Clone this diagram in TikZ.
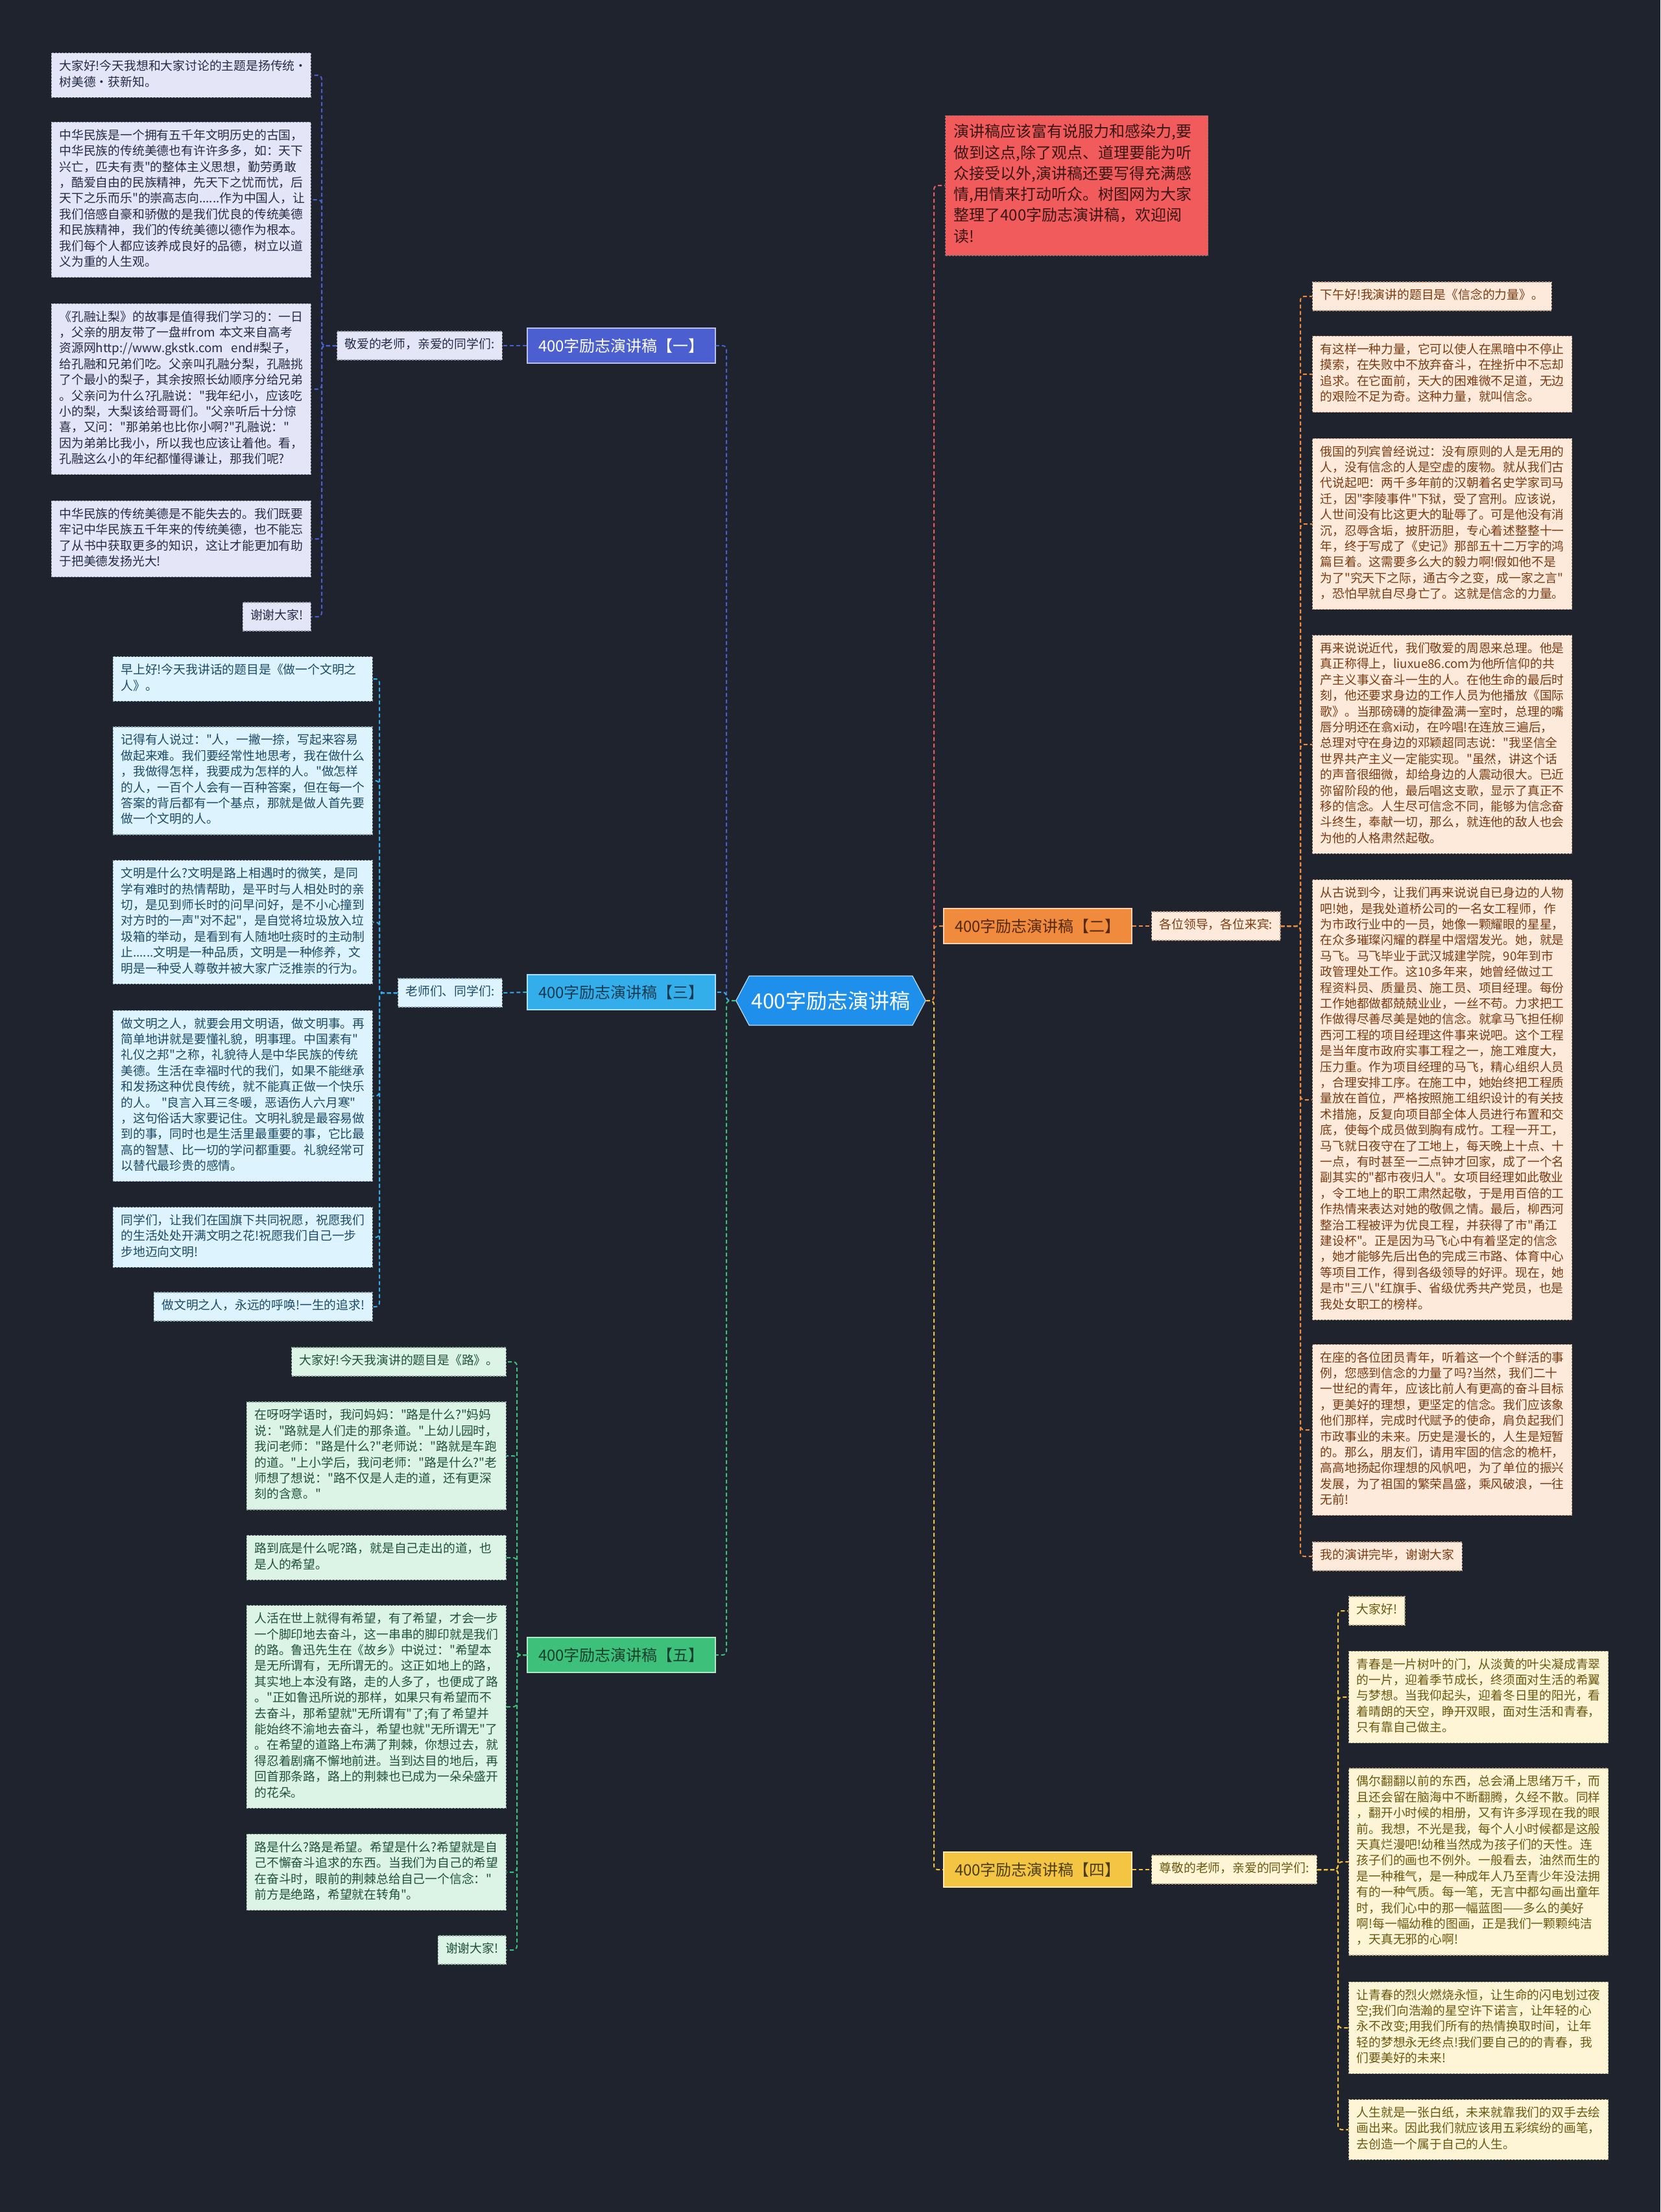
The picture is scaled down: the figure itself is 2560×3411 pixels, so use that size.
\documentclass[tikz,border=0pt]{standalone}
\usepackage{fontspec}
\setmainfont{Noto Sans CJK SC}
\newfontfamily\zh{Noto Sans CJK SC}
\usetikzlibrary{shapes.symbols}
\definecolor{bg}{HTML}{1F232E}
\definecolor{cen}{HTML}{1E8FEA}
\definecolor{redbox}{HTML}{F25B5B}
\definecolor{redtxt}{HTML}{3A1616}
\definecolor{bA}{HTML}{4B5FD1}
\definecolor{bC}{HTML}{33AEEA}
\definecolor{bE}{HTML}{3CC07A}
\definecolor{bB}{HTML}{F08A3C}
\definecolor{bD}{HTML}{F4C542}
\definecolor{fA}{HTML}{E4E6F7}\definecolor{tA}{HTML}{262B45}
\definecolor{fC}{HTML}{DDF3FD}\definecolor{tC}{HTML}{1C4A66}
\definecolor{fE}{HTML}{DCF4E6}\definecolor{tE}{HTML}{21513A}
\definecolor{fB}{HTML}{FDEADB}\definecolor{tB}{HTML}{7A3B12}
\definecolor{fD}{HTML}{FDF5D6}\definecolor{tD}{HTML}{6B5810}
\newcommand\leaffont{\zh\fontsize{18.8}{24.4}\selectfont}
\newcommand\redfont{\zh\fontsize{24}{32.3}\selectfont}
\newcommand\brfont{\zh\fontsize{24}{30}\selectfont}
\newcommand\cenfont{\zh\fontsize{32}{38}\selectfont}
\tikzset{
  leaf/.style={rectangle, dashed, dash pattern=on 3pt off 2pt, line width=1.2pt,
    inner xsep=12pt, inner ysep=9.8pt, font=\leaffont, align=left,
    execute at begin node=\strut, execute at end node=\strut},
  wide/.style={text width=376pt},
  lA/.style={leaf, fill=fA, draw=tA!50, text=tA},
  lC/.style={leaf, fill=fC, draw=tC!50, text=tC},
  lE/.style={leaf, fill=fE, draw=tE!50, text=tE},
  lB/.style={leaf, fill=fB, draw=tB!50, text=tB},
  lD/.style={leaf, fill=fD, draw=tD!50, text=tD},
  branch/.style={rectangle, minimum width=290pt, minimum height=54pt, font=\brfont,
    inner sep=0pt, draw=white!60!#1, line width=1.2pt, fill=#1},
  conn/.style={dashed, dash pattern=on 6pt off 4pt, line width=2pt, rounded corners=6pt},
}
\begin{document}
\begin{tikzpicture}[x=1pt,y=-1pt]
\useasboundingbox (0,0) rectangle (2560,3411);
\fill[bg] (0,0) rectangle (2560,3411);

% trunk coordinates
\coordinate (TL) at (1120,0);
\coordinate (TR) at (1440,0);
\coordinate (T1) at (496,0);
\coordinate (T3) at (585,0);
\coordinate (T5) at (797,0);
\coordinate (T2) at (2005,0);
\coordinate (T4) at (2063,0);

% center
\node[signal, signal to=west and east, signal pointer angle=124, fill=cen, draw=white!70!cen,
  line width=1.2pt, text=white, font=\cenfont, minimum width=288pt, minimum height=76pt]
  (C) at (1281,1543) {400字励志演讲稿};

% red intro box
\node[rectangle, fill=redbox, draw=redtxt!60, dashed, dash pattern=on 3pt off 2pt, line width=1.2pt,
  text=redtxt, font=\redfont, text width=379pt, inner xsep=13pt, inner ysep=11pt, align=left,
  execute at begin node=\strut, execute at end node=\strut, anchor=west] (R) at (1457,286)
{演讲稿应该富有说服力和感染力,要\\做到这点,除了观点、道理要能为听\\众接受以外,演讲稿还要写得充满感\\情,用情来打动听众。树图网为大家\\整理了400字励志演讲稿，欢迎阅\\读!};

% branches
\node[branch=bA, text=white] (B1) at (958,533) {400字励志演讲稿【一】};
\node[branch=bC, text=tC!80!black] (B3) at (958,1530) {400字励志演讲稿【三】};
\node[branch=bE, text=tE!80!black] (B5) at (958,2552) {400字励志演讲稿【五】};
\node[branch=bB, text=tB!70!black] (B2) at (1600,1428) {400字励志演讲稿【二】};
\node[branch=bD, text=tD!70!black] (B4) at (1600,2883) {400字励志演讲稿【四】};

% labels
\node[lA, anchor=east] (LA) at (775,533) {敬爱的老师，亲爱的同学们:};
\node[lC, anchor=east] (LC) at (775,1531) {老师们、同学们:};
\node[lB, anchor=west] (LB) at (1775,1428) {各位领导，各位来宾:};
\node[lD, anchor=west] (LD) at (1775,2883) {尊敬的老师，亲爱的同学们:};

% branch 1 leaves
\node[lA, wide, anchor=east] (a1) at (480,116) {大家好!今天我想和大家讨论的主题是扬传统·\\树美德·获新知。};
\node[lA, wide, anchor=east] (a2) at (480,308) {中华民族是一个拥有五千年文明历史的古国，\\中华民族的传统美德也有许许多多，如：天下\\兴亡，匹夫有责"的整体主义思想，勤劳勇敢\\，酷爱自由的民族精神，先天下之忧而忧，后\\天下之乐而乐"的崇高志向......作为中国人，让\\我们倍感自豪和骄傲的是我们优良的传统美德\\和民族精神，我们的传统美德以德作为根本。\\我们每个人都应该养成良好的品德，树立以道\\义为重的人生观。};
\node[lA, wide, anchor=east] (a3) at (480,600) {《孔融让梨》的故事是值得我们学习的：一日\\，父亲的朋友带了一盘\#from~本文来自高考\\资源网http://www.gkstk.com~~end\#梨子，\\给孔融和兄弟们吃。父亲叫孔融分梨，孔融挑\\了个最小的梨子，其余按照长幼顺序分给兄弟\\。父亲问为什么?孔融说："我年纪小，应该吃\\小的梨，大梨该给哥哥们。"父亲听后十分惊\\喜，又问："那弟弟也比你小啊?"孔融说："\\因为弟弟比我小，所以我也应该让着他。看，\\孔融这么小的年纪都懂得谦让，那我们呢?};
\node[lA, wide, anchor=east] (a4) at (480,831) {中华民族的传统美德是不能失去的。我们既要\\牢记中华民族五千年来的传统美德，也不能忘\\了从书中获取更多的知识，这让才能更加有助\\于把美德发扬光大!};
\node[lA, anchor=east] (a5) at (480,951) {谢谢大家!};

% branch 3 leaves
\node[lC, wide, anchor=east] (c1) at (575,1047) {早上好!今天我讲话的题目是《做一个文明之\\人》。};
\node[lC, wide, anchor=east] (c2) at (575,1204) {记得有人说过："人，一撇一捺，写起来容易\\做起来难。我们要经常性地思考，我在做什么\\，我做得怎样，我要成为怎样的人。"做怎样\\的人，一百个人会有一百种答案，但在每一个\\答案的背后都有一个基点，那就是做人首先要\\做一个文明的人。};
\node[lC, wide, anchor=east] (c3) at (575,1422) {文明是什么?文明是路上相遇时的微笑，是同\\学有难时的热情帮助，是平时与人相处时的亲\\切，是见到师长时的问早问好，是不小心撞到\\对方时的一声"对不起"，是自觉将垃圾放入垃\\圾箱的举动，是看到有人随地吐痰时的主动制\\止......文明是一种品质，文明是一种修养，文\\明是一种受人尊敬并被大家广泛推崇的行为。};
\node[lC, wide, anchor=east] (c4) at (575,1690) {做文明之人，就要会用文明语，做文明事。再\\简单地讲就是要懂礼貌，明事理。中国素有"\\礼仪之邦"之称，礼貌待人是中华民族的传统\\美德。生活在幸福时代的我们，如果不能继承\\和发扬这种优良传统，就不能真正做一个快乐\\的人。~"良言入耳三冬暖，恶语伤人六月寒"\\，这句俗话大家要记住。文明礼貌是最容易做\\到的事，同时也是生活里最重要的事，它比最\\高的智慧、比一切的学问都重要。礼貌经常可\\以替代最珍贵的感情。};
\node[lC, wide, anchor=east] (c5) at (575,1908) {同学们，让我们在国旗下共同祝愿，祝愿我们\\的生活处处开满文明之花!祝愿我们自己一步\\步地迈向文明!};
\node[lC, anchor=east] (c6) at (575,2015) {做文明之人，永远的呼唤!一生的追求!};

% branch 5 leaves
\node[lE, anchor=east] (e1) at (781,2100) {大家好!今天我演讲的题目是《路》。};
\node[lE, wide, anchor=east] (e2) at (781,2245) {在呀呀学语时，我问妈妈："路是什么?"妈妈\\说："路就是人们走的那条道。"上幼儿园时，\\我问老师："路是什么?"老师说："路就是车跑\\的道。"上小学后，我问老师："路是什么?"老\\师想了想说："路不仅是人走的道，还有更深\\刻的含意。"};
\node[lE, wide, anchor=east] (e3) at (781,2402) {路到底是什么呢?路，就是自己走出的道，也\\是人的希望。};
\node[lE, wide, anchor=east] (e4) at (781,2632) {人活在世上就得有希望，有了希望，才会一步\\一个脚印地去奋斗，这一串串的脚印就是我们\\的路。鲁迅先生在《故乡》中说过："希望本\\是无所谓有，无所谓无的。这正如地上的路，\\其实地上本没有路，走的人多了，也便成了路\\。"正如鲁迅所说的那样，如果只有希望而不\\去奋斗，那希望就"无所谓有"了;有了希望并\\能始终不渝地去奋斗，希望也就"无所谓无"了\\。在希望的道路上布满了荆棘，你想过去，就\\得忍着剧痛不懈地前进。当到达目的地后，再\\回首那条路，路上的荆棘也已成为一朵朵盛开\\的花朵。};
\node[lE, wide, anchor=east] (e5) at (781,2887) {路是什么?路是希望。希望是什么?希望就是自\\己不懈奋斗追求的东西。当我们为自己的希望\\在奋斗时，眼前的荆棘总给自己一个信念："\\前方是绝路，希望就在转角"。};
\node[lE, anchor=east] (e6) at (781,3007) {谢谢大家!};

% branch 2 leaves
\node[lB, anchor=west] (b1) at (2023,457) {下午好!我演讲的题目是《信念的力量》。};
\node[lB, wide, anchor=west] (b2) at (2023,577) {有这样一种力量，它可以使人在黑暗中不停止\\摸索，在失败中不放弃奋斗，在挫折中不忘却\\追求。在它面前，天大的困难微不足道，无边\\的艰险不足为奇。这种力量，就叫信念。};
\node[lB, wide, anchor=west] (b3) at (2023,808) {俄国的列宾曾经说过：没有原则的人是无用的\\人，没有信念的人是空虚的废物。就从我们古\\代说起吧：两千多年前的汉朝着名史学家司马\\迁，因"李陵事件"下狱，受了宫刑。应该说，\\人世间没有比这更大的耻辱了。可是他没有消\\沉，忍辱含垢，披肝沥胆，专心着述整整十一\\年，终于写成了《史记》那部五十二万字的鸿\\篇巨着。这需要多么大的毅力啊!假如他不是\\为了"究天下之际，通古今之变，成一家之言"\\，恐怕早就自尽身亡了。这就是信念的力量。};
\node[lB, wide, anchor=west] (b4) at (2023,1148) {再来说说近代，我们敬爱的周恩来总理。他是\\真正称得上，liuxue86.com为他所信仰的共\\产主义事义奋斗一生的人。在他生命的最后时\\刻，他还要求身边的工作人员为他播放《国际\\歌》。当那磅礴的旋律盈满一室时，总理的嘴\\唇分明还在翕xi动，在吟唱!在连放三遍后，\\总理对守在身边的邓颖超同志说："我坚信全\\世界共产主义一定能实现。"虽然，讲这个话\\的声音很细微，却给身边的人震动很大。已近\\弥留阶段的他，最后唱这支歌，显示了真正不\\移的信念。人生尽可信念不同，能够为信念奋\\斗终生，奉献一切，那么，就连他的敌人也会\\为他的人格肃然起敬。};
\node[lB, wide, anchor=west] (b5) at (2023,1696) {从古说到今，让我们再来说说自已身边的人物\\吧!她，是我处道桥公司的一名女工程师，作\\为市政行业中的一员，她像一颗耀眼的星星，\\在众多璀璨闪耀的群星中熠熠发光。她，就是\\马飞。马飞毕业于武汉城建学院，90年到市\\政管理处工作。这10多年来，她曾经做过工\\程资料员、质量员、施工员、项目经理。每份\\工作她都做都兢兢业业，一丝不苟。力求把工\\作做得尽善尽美是她的信念。就拿马飞担任柳\\西河工程的项目经理这件事来说吧。这个工程\\是当年度市政府实事工程之一，施工难度大，\\压力重。作为项目经理的马飞，精心组织人员\\，合理安排工序。在施工中，她始终把工程质\\量放在首位，严格按照施工组织设计的有关技\\术措施，反复向项目部全体人员进行布置和交\\底，使每个成员做到胸有成竹。工程一开工，\\马飞就日夜守在了工地上，每天晚上十点、十\\一点，有时甚至一二点钟才回家，成了一个名\\副其实的"都市夜归人"。女项目经理如此敬业\\，令工地上的职工肃然起敬，于是用百倍的工\\作热情来表达对她的敬佩之情。最后，柳西河\\整治工程被评为优良工程，并获得了市"甬江\\建设杯"。正是因为马飞心中有着坚定的信念\\，她才能够先后出色的完成三市路、体育中心\\等项目工作，得到各级领导的好评。现在，她\\是市"三八"红旗手、省级优秀共产党员，也是\\我处女职工的榜样。};
\node[lB, wide, anchor=west] (b6) at (2023,2205) {在座的各位团员青年，听着这一个个鲜活的事\\例，您感到信念的力量了吗?当然，我们二十\\一世纪的青年，应该比前人有更高的奋斗目标\\，更美好的理想，更坚定的信念。我们应该象\\他们那样，完成时代赋予的使命，肩负起我们\\市政事业的未来。历史是漫长的，人生是短暂\\的。那么，朋友们，请用牢固的信念的桅杆，\\高高地扬起你理想的风帆吧，为了单位的振兴\\发展，为了祖国的繁荣昌盛，乘风破浪，一往\\无前!};
\node[lB, anchor=west] (b7) at (2023,2400) {我的演讲完毕，谢谢大家};

% branch 4 leaves
\node[lD, anchor=west] (d1) at (2079,2484) {大家好!};
\node[lD, wide, anchor=west] (d2) at (2079,2617) {青春是一片树叶的门，从淡黄的叶尖凝成青翠\\的一片，迎着季节成长，终须面对生活的希翼\\与梦想。当我仰起头，迎着冬日里的阳光，看\\着晴朗的天空，睁开双眼，面对生活和青春，\\只有靠自己做主。};
\node[lD, wide, anchor=west] (d3) at (2079,2871) {偶尔翻翻以前的东西，总会涌上思绪万千，而\\且还会留在脑海中不断翻腾，久经不散。同样\\，翻开小时候的相册，又有许多浮现在我的眼\\前。我想，不光是我，每个人小时候都是这般\\天真烂漫吧!幼稚当然成为孩子们的天性。连\\孩子们的画也不例外。一般看去，油然而生的\\是一种稚气，是一种成年人乃至青少年没法拥\\有的一种气质。每一笔，无言中都勾画出童年\\时，我们心中的那一幅蓝图——多么的美好\\啊!每一幅幼稚的图画，正是我们一颗颗纯洁\\，天真无邪的心啊!};
\node[lD, wide, anchor=west] (d4) at (2079,3127) {让青春的烈火燃烧永恒，让生命的闪电划过夜\\空;我们向浩瀚的星空许下诺言，让年轻的心\\永不改变;用我们所有的热情换取时间，让年\\轻的梦想永无终点!我们要自己的的青春，我\\们要美好的未来!};
\node[lD, wide, anchor=west] (d5) at (2079,3284) {人生就是一张白纸，未来就靠我们的双手去绘\\画出来。因此我们就应该用五彩缤纷的画笔，\\去创造一个属于自己的人生。};

% connectors from center
\draw[conn, draw=bA] (C.west) -- (C.west -| TL) |- (B1.east);
\draw[conn, draw=bC] (C.west) -- (C.west -| TL) |- (B3.east);
\draw[conn, draw=bE] (C.west) -- (C.west -| TL) |- (B5.east);
\draw[conn, draw=redbox] (C.east) -- (C.east -| TR) |- (R.west);
\draw[conn, draw=bB] (C.east) -- (C.east -| TR) |- (B2.west);
\draw[conn, draw=bD] (C.east) -- (C.east -| TR) |- (B4.west);

% branch to label
\draw[conn, draw=bA] (B1.west) -- (LA.east);
\draw[conn, draw=bC] (B3.west) -- (LC.east);
\draw[conn, draw=bB] (B2.east) -- (LB.west);
\draw[conn, draw=bD] (B4.east) -- (LD.west);

% leaves
\foreach \n in {a1,a2,a3,a4,a5}
  \draw[conn, draw=bA] (LA.west) -- (LA.west -| T1) |- (\n.east);
\foreach \n in {c1,c2,c3,c4,c5,c6}
  \draw[conn, draw=bC] (LC.west) -- (LC.west -| T3) |- (\n.east);
\foreach \n in {e1,e2,e3,e4,e5,e6}
  \draw[conn, draw=bE] (B5.west) -- (B5.west -| T5) |- (\n.east);
\foreach \n in {b1,b2,b3,b4,b5,b6,b7}
  \draw[conn, draw=bB] (LB.east) -- (LB.east -| T2) |- (\n.west);
\foreach \n in {d1,d2,d3,d4,d5}
  \draw[conn, draw=bD] (LD.east) -- (LD.east -| T4) |- (\n.west);
\end{tikzpicture}
\end{document}
